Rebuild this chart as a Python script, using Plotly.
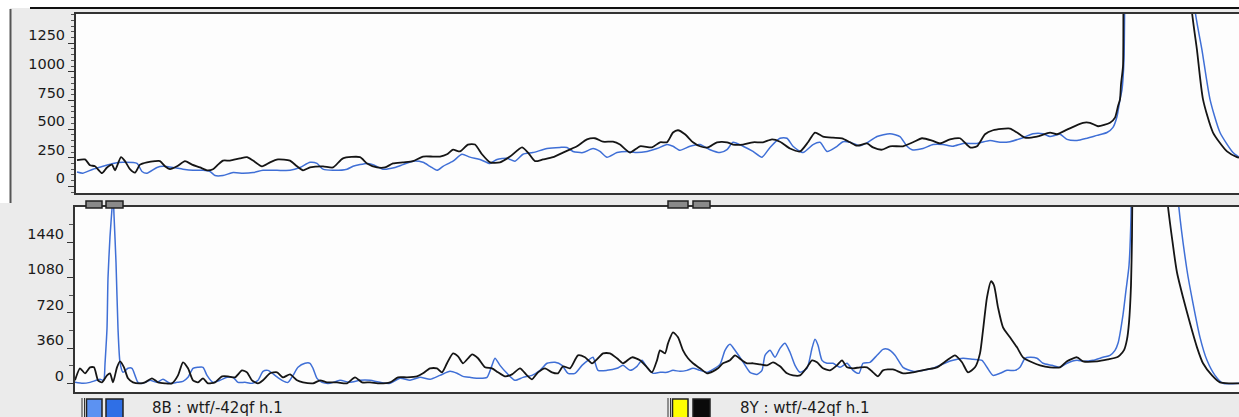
import plotly.graph_objects as go

W, H = 1239, 417

# ---------------- data (scan position, signal) ----------------
top_black_x = [77, 85, 90, 95, 102, 107, 112, 115, 121, 125, 130, 135, 140, 147, 155, 160, 165, 170, 177, 185,
               192, 200, 207, 213, 218, 223, 230, 240, 247, 253, 262, 270, 278, 290, 297, 303, 310, 323, 333, 343,
               360, 367, 377, 385, 393, 403, 413, 423, 433, 440, 447, 453, 460, 468, 475, 482, 490, 500, 510, 522,
               528, 535, 543, 553, 563, 572, 577, 587, 595, 603, 613, 620, 630, 640, 652, 660, 667, 673, 678, 685,
               693, 700, 708, 717, 727, 733, 743, 753, 763, 772, 780, 790, 800, 808, 815, 823, 833, 842, 850, 857,
               867, 873, 882, 890, 903, 913, 922, 932, 940, 950, 960, 970, 977, 985, 993, 1010, 1017, 1025, 1037, 1050,
               1057, 1067, 1083, 1090, 1098, 1110, 1115, 1118, 1120, 1121, 1123, 1124, 1157, 1191, 1197, 1203, 1213, 1227, 1237, 1239]
top_black_y = [230, 235, 185, 175, 115, 165, 190, 140, 255, 220, 150, 120, 190, 210, 220, 220, 175, 150, 175, 220,
               190, 165, 140, 150, 190, 225, 225, 245, 255, 225, 175, 210, 235, 225, 175, 140, 165, 175, 165, 245,
               255, 200, 165, 165, 200, 210, 220, 260, 260, 260, 280, 320, 305, 365, 365, 280, 210, 210, 260, 340,
               295, 220, 235, 255, 295, 330, 350, 410, 420, 390, 390, 365, 295, 350, 340, 385, 385, 470, 490, 455,
               385, 350, 340, 385, 385, 365, 365, 385, 385, 410, 390, 330, 305, 385, 470, 435, 425, 420, 385, 355,
               375, 340, 320, 350, 350, 385, 420, 400, 375, 410, 420, 340, 350, 455, 490, 505, 470, 425, 435, 470,
               455, 495, 555, 555, 525, 555, 600, 700, 760, 890, 1050, 2500, 8000, 1600, 1190, 760, 470, 305, 255, 250]

top_blue_x = [77, 83, 93, 103, 113, 123, 137, 142, 147, 157, 163, 173, 183, 193, 203, 210, 215, 223, 233, 243,
              253, 263, 277, 290, 300, 310, 317, 323, 333, 347, 353, 360, 367, 373, 383, 395, 403, 413, 423, 430,
              437, 443, 453, 462, 470, 480, 490, 497, 507, 515, 523, 533, 547, 560, 567, 573, 583, 593, 600, 607,
              617, 627, 637, 647, 657, 667, 673, 680, 690, 700, 710, 720, 727, 733, 743, 753, 762, 770, 780, 787,
              793, 803, 813, 820, 827, 837, 843, 850, 860, 868, 877, 890, 900, 907, 912, 923, 933, 943, 953, 963,
              977, 990, 1000, 1010, 1023, 1033, 1043, 1050, 1060, 1067, 1077, 1087, 1097, 1107, 1113, 1117, 1120, 1122, 1124, 1126,
              1160, 1194, 1202, 1210, 1220, 1233, 1239]
top_blue_y = [125, 115, 150, 175, 200, 210, 200, 130, 115, 165, 175, 165, 150, 140, 140, 130, 95, 95, 120, 115,
              120, 140, 140, 140, 165, 210, 200, 150, 140, 150, 175, 190, 200, 190, 150, 165, 190, 220, 210, 175,
              140, 175, 220, 280, 255, 235, 200, 235, 245, 220, 280, 295, 330, 340, 340, 305, 295, 330, 305, 255,
              295, 305, 295, 305, 330, 365, 350, 315, 350, 365, 320, 295, 320, 385, 350, 305, 255, 340, 420, 420,
              350, 295, 365, 385, 305, 350, 390, 385, 355, 385, 435, 460, 435, 350, 320, 330, 365, 365, 350, 375,
              375, 400, 385, 390, 425, 460, 460, 435, 455, 410, 400, 420, 445, 470, 515, 610, 760, 845, 1105, 2500,
              8000, 1600, 1190, 760, 470, 295, 255]

bot_black_x = [75, 80, 85, 90, 94, 98, 102, 107, 110, 113, 117, 120, 124, 128, 133, 140, 145, 152, 158, 165,
               172, 178, 183, 188, 193, 198, 203, 208, 215, 222, 228, 235, 242, 247, 252, 258, 263, 270, 277, 283,
               290, 297, 303, 313, 320, 327, 337, 347, 355, 362, 370, 380, 390, 398, 407, 417, 423, 430, 437, 442,
               447, 453, 458, 463, 469, 472, 478, 485, 492, 498, 505, 512, 520, 527, 532, 538, 545, 552, 558, 563,
               570, 578, 585, 592, 598, 603, 610, 617, 623, 632, 640, 647, 652, 657, 660, 665, 668, 673, 678, 683,
               688, 693, 700, 707, 713, 718, 723, 730, 735, 742, 747, 753, 760, 767, 773, 780, 787, 793, 800, 807,
               812, 817, 823, 830, 837, 842, 847, 853, 860, 867, 873, 878, 883, 893, 903, 913, 927, 937, 947, 955,
               962, 968, 975, 980, 983, 987, 991, 994, 998, 1003, 1010, 1017, 1023, 1032, 1040, 1050, 1060, 1067, 1077, 1083,
               1097, 1108, 1117, 1120, 1124, 1127, 1129, 1131, 1132, 1133, 1150, 1166, 1173, 1177, 1183, 1190, 1197, 1203, 1212, 1220,
               1230, 1239]
bot_black_y = [34, 156, 105, 166, 166, 34, 13, 84, 105, 13, 166, 227, 166, 54, 13, 3, 13, 54, 13, 3,
               3, 84, 217, 156, 34, 13, 54, 3, 13, 74, 74, 64, 135, 115, 34, 3, 34, 105, 115, 64,
               94, 34, 13, 3, 34, 13, 13, 3, 64, 13, 13, 3, 13, 64, 64, 74, 105, 156, 156, 115,
               207, 308, 278, 207, 268, 298, 258, 166, 156, 115, 74, 94, 156, 84, 44, 115, 156, 115, 105, 176,
               156, 288, 268, 207, 258, 308, 308, 258, 207, 268, 237, 166, 115, 237, 339, 308, 410, 522, 471, 339,
               258, 207, 156, 105, 125, 156, 207, 237, 288, 237, 207, 207, 196, 186, 217, 176, 105, 84, 84, 166,
               237, 217, 156, 135, 186, 237, 166, 156, 166, 166, 115, 74, 135, 145, 105, 115, 145, 166, 237, 288,
               217, 115, 166, 308, 542, 878, 1041, 1000, 776, 573, 471, 369, 268, 217, 186, 166, 166, 227, 268, 227,
               227, 247, 268, 290, 340, 450, 620, 1000, 1500, 2500, 8000, 2000, 1405, 1130, 878, 613, 369, 207, 84, 13,
               3, 3]

bot_blue_x = [75, 83, 90, 100, 103, 104, 105, 107, 108, 110, 112, 113, 114, 116, 118, 120, 123, 128, 132, 135,
              138, 143, 150, 157, 163, 170, 177, 183, 188, 193, 198, 203, 207, 213, 220, 227, 233, 238, 245, 252,
              258, 263, 268, 275, 282, 288, 293, 298, 305, 310, 313, 317, 322, 330, 340, 350, 360, 370, 380, 390,
              400, 410, 420, 430, 440, 450, 457, 463, 470, 480, 487, 492, 495, 500, 507, 515, 523, 532, 540, 547,
              555, 562, 568, 575, 582, 588, 593, 598, 607, 617, 623, 630, 637, 642, 647, 653, 660, 667, 673, 680,
              687, 693, 700, 707, 713, 720, 725, 730, 735, 742, 750, 757, 762, 765, 770, 775, 780, 785, 790, 795,
              800, 807, 812, 815, 818, 822, 827, 833, 840, 847, 853, 859, 863, 870, 877, 883, 888, 895, 903, 913,
              923, 933, 940, 947, 953, 963, 973, 982, 987, 993, 1000, 1007, 1015, 1020, 1025, 1030, 1037, 1043, 1052, 1060,
              1067, 1077, 1083, 1093, 1103, 1110, 1115, 1118, 1123, 1126, 1129, 1131, 1132, 1155, 1177, 1187, 1193, 1200, 1207, 1215,
              1223, 1239]
bot_blue_y = [13, 3, 13, 44, 34, 40, 200, 560, 1075, 1495, 1780, 1950, 1715, 1235, 560, 217, 115, 156, 156, 84,
              13, 3, 34, 13, 44, 3, 13, 23, 64, 156, 166, 166, 84, 13, 34, 64, 64, 13, 13, 3,
              34, 125, 135, 84, 34, 13, 84, 166, 207, 207, 156, 54, 13, 3, 34, 13, 34, 34, 13, 3,
              54, 34, 64, 44, 84, 125, 105, 74, 64, 54, 64, 186, 258, 186, 105, 34, 64, 84, 135, 207,
              217, 186, 105, 105, 186, 237, 268, 135, 135, 156, 186, 135, 176, 237, 166, 105, 115, 115, 135, 125,
              135, 156, 135, 115, 145, 196, 339, 400, 339, 237, 115, 94, 135, 288, 339, 268, 359, 410, 319, 186,
              115, 156, 359, 451, 390, 237, 207, 207, 166, 207, 135, 105, 207, 217, 288, 349, 349, 288, 166, 125,
              135, 156, 186, 217, 237, 258, 247, 237, 166, 84, 105, 135, 135, 166, 258, 268, 258, 207, 186, 166,
              207, 237, 227, 237, 268, 288, 339, 410, 700, 950, 1200, 1700, 2500, 8000, 2000, 1153, 817, 471, 237, 84,
              3, 3]

top_ticks = [0, 250, 500, 750, 1000, 1250]
bot_ticks = [0, 360, 720, 1080, 1440]
top_range = [-58, 1505]
bot_range = [-85, 1796]
label_left = "8B : wtf/-42qf h.1"
label_right = "8Y : wtf/-42qf h.1"

BLACK = "#151515"
BLUE = "#3f6fd6"
FONT = "DejaVu Sans"


def px(x):
    return x / W


def py(y):
    return 1 - y / H


fig = go.Figure()
line_kw = dict(shape="spline", smoothing=0.6)
fig.add_trace(go.Scatter(x=top_blue_x, y=top_blue_y, mode="lines", line=dict(color=BLUE, width=1.5, **line_kw),
                         xaxis="x", yaxis="y", hoverinfo="skip"))
fig.add_trace(go.Scatter(x=top_black_x, y=top_black_y, mode="lines", line=dict(color=BLACK, width=1.8, **line_kw),
                         xaxis="x", yaxis="y", hoverinfo="skip"))
fig.add_trace(go.Scatter(x=bot_blue_x, y=bot_blue_y, mode="lines", line=dict(color=BLUE, width=1.5, **line_kw),
                         xaxis="x2", yaxis="y2", hoverinfo="skip"))
fig.add_trace(go.Scatter(x=bot_black_x, y=bot_black_y, mode="lines", line=dict(color=BLACK, width=1.8, **line_kw),
                         xaxis="x2", yaxis="y2", hoverinfo="skip"))

xaxis_common = dict(showgrid=False, zeroline=False, showline=True, mirror=True,
                    linecolor="#333333", linewidth=2, showticklabels=False, ticks="")
yaxis_common = dict(showgrid=False, zeroline=False, showline=True, mirror=False,
                    linecolor="#333333", linewidth=2,
                    ticks="outside", ticklen=6, tickwidth=1, tickcolor="#333333",
                    ticklabelshift=-8, tickfont=dict(family=FONT, size=14.5, color="#1a1a1a"))

fig.update_layout(
    width=W, height=H,
    margin=dict(l=0, r=0, t=0, b=0),
    paper_bgcolor="#ebebeb",
    plot_bgcolor="#fdfdfd",
    showlegend=False,
    font=dict(family=FONT, color="#1a1a1a"),
    xaxis=dict(domain=[px(76), 1], range=[76, 1239], anchor="y", **xaxis_common),
    yaxis=dict(domain=[py(193), py(14)], range=top_range, tickvals=top_ticks,
               minor=dict(dtick=50, tick0=0, ticks="outside", ticklen=3, tickcolor="#555555"),
               anchor="x", **yaxis_common),
    xaxis2=dict(domain=[px(75), 1], range=[75, 1239], anchor="y2", **xaxis_common),
    yaxis2=dict(domain=[py(392), py(207)], range=bot_range, tickvals=bot_ticks,
                minor=dict(dtick=180, tick0=0, ticks="outside", ticklen=4, tickcolor="#555555"),
                anchor="x2", **yaxis_common),
)

shapes = []
# white strips of the window frame
shapes.append(dict(type="rect", xref="paper", yref="paper", x0=0, x1=1, y0=py(8), y1=1,
                   fillcolor="white", line=dict(width=0), layer="below"))
shapes.append(dict(type="rect", xref="paper", yref="paper", x0=0, x1=px(10), y0=py(203), y1=py(8),
                   fillcolor="white", line=dict(width=0), layer="below"))
shapes.append(dict(type="line", xref="paper", yref="paper", x0=px(30), x1=1, y0=py(8), y1=py(8),
                   line=dict(color="#111111", width=2)))
shapes.append(dict(type="line", xref="paper", yref="paper", x0=px(10.5), x1=px(10.5), y0=py(9), y1=py(203),
                   line=dict(color="#555555", width=2)))


def swatch(x0, x1, y0, y1, fill):
    shapes.append(dict(type="rect", xref="paper", yref="paper", x0=px(x0), x1=px(x1), y0=py(y1), y1=py(y0),
                       fillcolor=fill, line=dict(color="#222222", width=1.5), layer="above"))


def bar(x, y0, y1):
    shapes.append(dict(type="line", xref="paper", yref="paper", x0=px(x), x1=px(x), y0=py(y1), y1=py(y0),
                       line=dict(color="#333333", width=1), layer="above"))


# partially hidden swatches between the panels
for a, b in [(86, 102), (106, 123), (668, 688), (693, 710)]:
    swatch(a, b, 201, 208, "#8a8a8a")

# bottom swatches
bar(82, 398, 417)
bar(84.5, 398, 417)
swatch(86.5, 102, 399, 420, "#5c92f2")
swatch(106, 123, 399, 420, "#2f6fe6")
bar(668, 398, 417)
bar(670.5, 398, 417)
swatch(672.5, 688, 399, 420, "#ffff00")
swatch(693, 710, 399, 420, "#0a0a0a")

fig.update_layout(shapes=shapes)

fig.add_annotation(x=px(150), y=py(408), xref="paper", yref="paper", text=label_left,
                   showarrow=False, xanchor="left", yanchor="middle",
                   font=dict(family=FONT, size=15, color="#1a1a1a"))
fig.add_annotation(x=px(738), y=py(408), xref="paper", yref="paper", text=label_right,
                   showarrow=False, xanchor="left", yanchor="middle",
                   font=dict(family=FONT, size=15, color="#1a1a1a"))

fig.write_html("out.html", config={"displayModeBar": False},
               post_script="document.body.style.margin='0';document.body.style.padding='0';"
                           "document.body.style.overflow='hidden';")
